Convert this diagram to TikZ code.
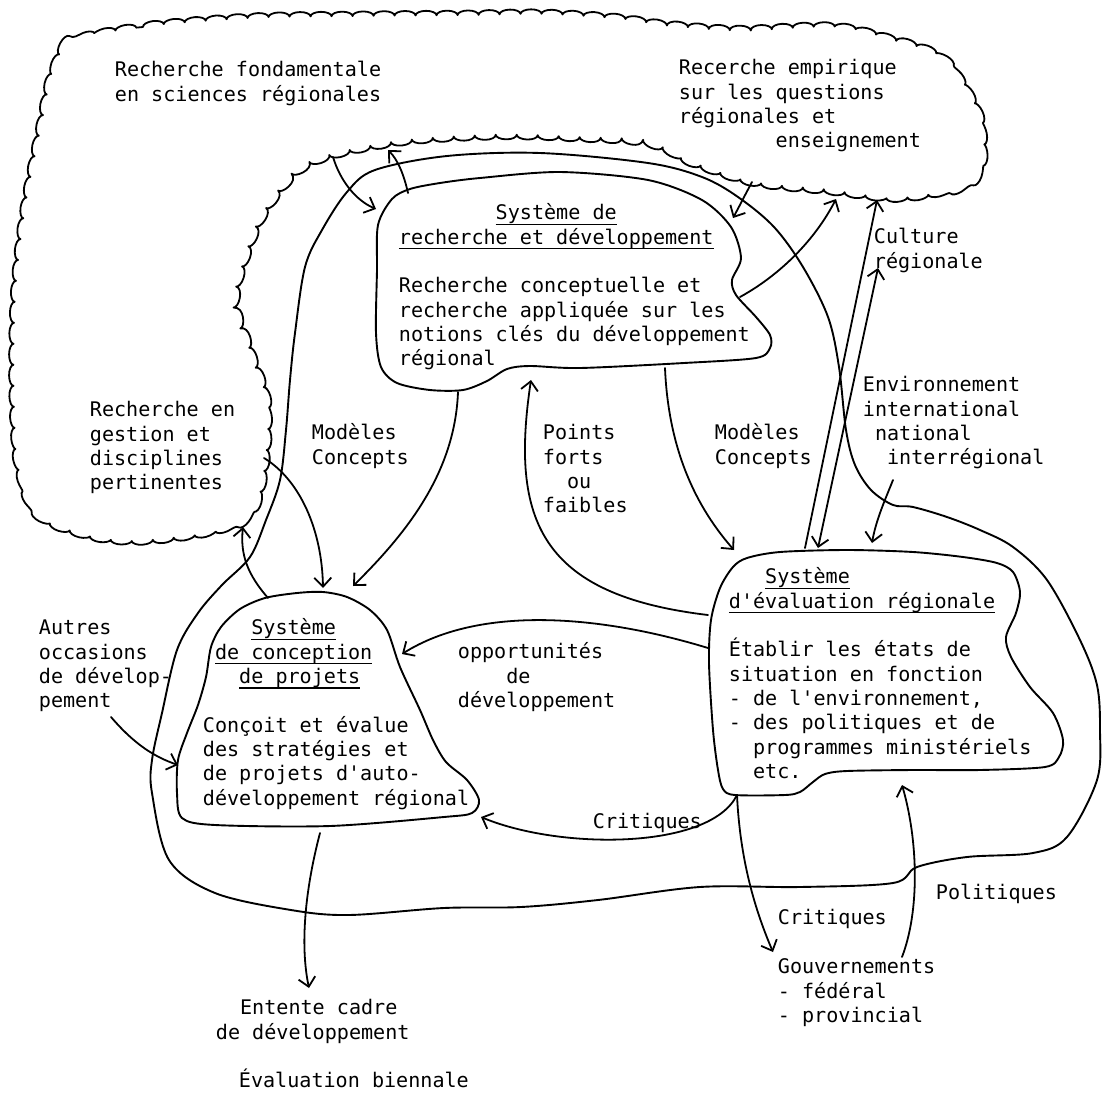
\documentclass[tikz,border=0pt]{standalone}
\usepackage{fontspec}
\newfontfamily\tw{DejaVu Sans Mono}
\usetikzlibrary{arrows.meta,decorations.pathmorphing}
\newcommand\myst{\rule{0pt}{16pt}}
\newcommand\myul[1]{\setbox0\hbox{#1}\rlap{\rule[-5pt]{\wd0}{1.3pt}}\box0}
\begin{document}
\begin{tikzpicture}[x=1pt,y=-1pt,line width=1.8pt,line cap=round,line join=round,
  lbl/.style={anchor=north west,inner sep=0pt,align=left,font=\tw\fontsize{20.1pt}{24.3pt}\selectfont},
  arr/.style={-{Straight Barb[length=9pt,width=17pt]}},
  darr/.style={{Straight Barb[length=9pt,width=17pt]}-{Straight Barb[length=9pt,width=17pt]}},
  blob/.style={line width=1.9pt},
  cloudline/.style={line width=1.8pt,decorate,decoration={bumps,segment length=42pt,amplitude=4.5pt}}]
\fill[white] (0,0) rectangle (1104,1101);
\useasboundingbox (0,0) rectangle (1104,1101);

% big cloud (research environment)
\draw[cloudline] plot[smooth cycle,tension=0.55] coordinates {
 (71,43) (143,27) (250,18) (357,16) (464,15) (540,14) (612,18) (666,25) (738,30)
 (828,27) (882,37) (939,57) (972,100) (982,135) (980,167) (960,186) (900,197)
 (828,190) (756,182) (700,165) (648,143) (576,137) (500,135) (411,140) (339,153)
 (300,170) (268,207) (248,250) (236,300) (250,350) (266,400) (265,460) (252,510)
 (214,530) (143,540) (89,535) (40,515) (20,470) (14,400) (15,300) (24,215) (40,130) (52,75)};

% big loop
\draw[blob] plot[smooth cycle,tension=0.55] coordinates {
 (375,170) (447,156) (540,153) (648,163) (702,177) (738,197) (774,227) (803,267)
 (828,317) (839,367) (846,430) (855,465) (871,490) (893,505) (913,507) (947,517)
 (980,530) (1013,547) (1047,580) (1080,640) (1097,685) (1100,730) (1097,780)
 (1067,837) (1033,853) (967,857) (917,867) (893,883) (800,887) (700,887) (598,900)
 (521,907) (444,908) (349,915) (291,910) (215,893) (169,860) (152,793) (152,760)
 (162,713) (177,650) (198,613) (222,585) (250,557) (266,520) (280,480) (286,430)
 (290,380) (295,333) (305,267) (322,230) (347,192)};

% R&D box
\draw[blob] plot[smooth cycle,tension=0.5] coordinates {
 (378,225) (392,199) (410,189) (440,183) (480,178) (560,172) (648,180) (702,200)
 (731,227) (741,258) (732,280) (736,295) (756,317) (770,335) (770,348) (756,358)
 (684,363) (580,368) (530,366) (507,369) (487,381) (463,390) (430,390) (397,383)
 (381,367) (376,333) (377,270)};

% conception box
\draw[blob] plot[smooth cycle,tension=0.5] coordinates {
 (265,598) (297,593) (323,592) (347,597) (370,610) (387,630) (400,667) (420,710)
 (433,740) (446,762) (467,780) (479,800) (472,813) (444,817) (330,826) (215,825)
 (182,818) (177,793) (178,760) (187,733) (198,705) (206,677) (211,647) (221,627) (240,609)};

% evaluation box
\draw[blob] plot[smooth cycle,tension=0.5] coordinates {
 (747,558) (780,552) (847,550) (913,552) (963,557) (997,563) (1013,572) (1020,592)
 (1016,613) (1006,637) (1011,657) (1030,687) (1053,713) (1063,740) (1059,757)
 (1045,767) (980,770) (913,770) (847,771) (825,774) (813,782) (800,792) (785,795)
 (735,795) (723,789) (718,770) (713,730) (709,663) (711,620) (720,588) (733,567)};

% texts
\node[lbl] (fund) at (114,60) {\myst Recherche fondamentale\\en sciences régionales};
\node[lbl] (emp) at (678,58) {\myst Recerche empirique\\sur les questions\\régionales et\\\phantom{xxxxxxxx}enseignement};
\node[lbl] (rd) at (398,203) {\myst\phantom{xxxxxxxx}\myul{Système de}\\\myul{recherche et développement}\\\myst\\Recherche conceptuelle et\\recherche appliquée sur les\\notions clés du développement\\régional};
\node[lbl] (cult) at (873,227) {\myst Culture\\régionale};
\node[lbl] (env) at (862,375) {\myst Environnement\\international\\\phantom{x}national\\\phantom{xx}interrégional};
\node[lbl] (gest) at (89,400) {\myst Recherche en\\gestion et\\disciplines\\pertinentes};
\node[lbl] (modl) at (311,423) {\myst Modèles\\Concepts};
\node[lbl] (pts) at (542,423) {\myst Points\\forts\\\phantom{xx}ou\\faibles};
\node[lbl] (modr) at (714,423) {\myst Modèles\\Concepts};
\node[lbl] (ev) at (728,567) {\myst\phantom{xxx}\myul{Système}\\\myul{d'évaluation régionale}\\\myst\\Établir les états de\\situation en fonction\\- de l'environnement,\\- des politiques et de\\\phantom{xx}programmes ministériels\\\phantom{xx}etc.};
\node[lbl] (aut) at (38,618) {\myst Autres\\occasions\\de dévelop-\\pement};
\node[lbl] (conc) at (202,618) {\myst\phantom{xxxx}\myul{Système}\\\phantom{x}\myul{de conception}\\\phantom{xxx}\myul{de projets}\\\myst\\Conçoit et évalue\\des stratégies et\\de projets d'auto-\\développement régional};
\node[lbl] (opp) at (457,642) {\myst opportunités\\\phantom{xxxx}de\\développement};
\node[lbl] (critu) at (592,812) {\myst Critiques};
\node[lbl] (critl) at (777,908) {\myst Critiques};
\node[lbl] (gouv) at (777,957) {\myst Gouvernements\\- fédéral\\- provincial};
\node[lbl] (pol) at (935,883) {\myst Politiques};
\node[lbl] (ent) at (215,998) {\myst\phantom{xx}Entente cadre\\de développement};
\node[lbl] (bien) at (238,1068) {\myst Évaluation biennale};

% connector end points
\coordinate (rdTopA) at (408,193);   \coordinate (fundA) at (388,150);
\coordinate (fundB) at (333,157);    \coordinate (rdTopB) at (376,209);
\coordinate (empA) at (752,182);     \coordinate (rdRA) at (733,218);
\coordinate (rdRB) at (740,297);     \coordinate (empB) at (836,199);
\coordinate (evTopA) at (805,548);   \coordinate (empC) at (877,200);
\coordinate (evTopB) at (818,548);   \coordinate (cultTip) at (878,268);
\coordinate (envS) at (893,480);     \coordinate (evTopC) at (872,543);
\coordinate (rdBotR) at (665,368);   \coordinate (evTopL) at (734,550);
\coordinate (evLA) at (708,615);     \coordinate (rdBotP) at (531,380);
\coordinate (evLB) at (708,648);     \coordinate (concR) at (402,654);
\coordinate (rdBotL) at (458,392);   \coordinate (concTopB) at (353,586);
\coordinate (gestR) at (264,458);    \coordinate (concTopA) at (323,588);
\coordinate (concTopL) at (268,598); \coordinate (gestB) at (243,527);
\coordinate (autS) at (111,717);     \coordinate (concL) at (178,765);
\coordinate (evBot) at (737,795);    \coordinate (concBR) at (481,817);
\coordinate (concBot) at (320,833);  \coordinate (entTop) at (309,988);
\coordinate (gouvTop) at (773,952);
\coordinate (gouvR) at (902,957);    \coordinate (evBotR) at (902,785);

% connectors
\draw[arr] (rdTopA) .. controls (404,175) and (398,160) .. (fundA);
\draw[arr] (fundB) .. controls (340,180) and (355,200) .. (rdTopB);
\draw[arr] (empA) .. controls (745,195) and (740,205) .. (rdRA);
\draw[arr] (rdRB) .. controls (780,275) and (815,240) .. (empB);
\draw[arr] (evTopA) -- (empC);
\draw[darr] (evTopB) -- (cultTip);
\draw[arr] (envS) .. controls (885,500) and (876,520) .. (evTopC);
\draw[arr] (rdBotR) .. controls (668,440) and (690,500) .. (evTopL);
\draw[arr] (evLA) .. controls (540,595) and (510,520) .. (rdBotP);
\draw[arr] (evLB) .. controls (600,615) and (480,605) .. (concR);
\draw[arr] (rdBotL) .. controls (455,470) and (410,530) .. (concTopB);
\draw[arr] (gestR) .. controls (300,480) and (322,530) .. (concTopA);
\draw[arr] (concTopL) .. controls (248,575) and (240,555) .. (gestB);
\draw[arr] (autS) .. controls (135,745) and (155,757) .. (concL);
\draw[arr] (evBot) .. controls (710,850) and (560,850) .. (concBR);
\draw[arr] (concBot) .. controls (305,890) and (300,945) .. (entTop);
\draw[arr] (evBot) .. controls (740,860) and (755,910) .. (gouvTop);
\draw[arr] (gouvR) .. controls (920,910) and (918,840) .. (evBotR);
\end{tikzpicture}
\end{document}
